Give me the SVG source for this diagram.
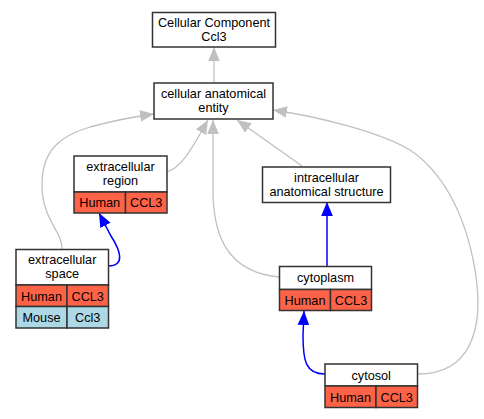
<svg xmlns="http://www.w3.org/2000/svg" width="484" height="419" viewBox="0 0 484 419">
<style>
text{font-family:"Liberation Sans",Arial,sans-serif;font-size:12.7px;fill:#000;text-anchor:middle}
.box{fill:#fff;stroke:#333;stroke-width:1.5}
.hu{fill:#ff6347;stroke:#333;stroke-width:1.5}
.mo{fill:#add8e6;stroke:#333;stroke-width:1.5}
.g{fill:none;stroke:#c0c0c0;stroke-width:1.3}
.b{fill:none;stroke:#0000ff;stroke-width:1.5}
</style>
<defs>
<marker id="ag" markerUnits="userSpaceOnUse" markerWidth="14" markerHeight="12" refX="12" refY="5" orient="auto" viewBox="0 0 12 10"><path d="M0,0 L12,5 L0,10 Z" fill="#c0c0c0"/></marker>
<marker id="ab" markerUnits="userSpaceOnUse" markerWidth="14" markerHeight="12" refX="12" refY="5" orient="auto" viewBox="0 0 12 10"><path d="M0,0 L12,5 L0,10 Z" fill="#0000ff"/></marker>
</defs>
<g id="edges">
<path class="g" d="M214,83 L214,47" marker-end="url(#ag)"/>
<path class="g" d="M166,172 C182,168 192,148 208,120" marker-end="url(#ag)"/>
<path class="g" d="M279,277 C225,272 213,232 213,190 L213,120" marker-end="url(#ag)"/>
<path class="g" d="M302,166 L237,120" marker-end="url(#ag)"/>
<path class="g" d="M418,374 C470,374 485,330 475,270 C465,210 440,170 410,150 C380,132 320,117 273,110" marker-end="url(#ag)"/>
<path class="g" d="M62,249 C62,230 42,220 42,185 C42,150 60,136 90,127 C112,121 132,117 154,114" marker-end="url(#ag)"/>
<path class="b" d="M108,266 C126,266 120,250 111,236 L99,213" marker-end="url(#ab)"/>
<path class="b" d="M327,266 L327,202" marker-end="url(#ab)"/>
<path class="b" d="M325,374 C305,374 303,360 303,335 L304,311" marker-end="url(#ab)"/>
</g>
<g id="n1">
<rect class="box" x="152.5" y="12.5" width="123" height="34.5"/>
<text x="214" y="26.5">Cellular Component</text>
<text x="214" y="40.5">Ccl3</text>
</g>
<g id="n2">
<rect class="box" x="154" y="83" width="119" height="36"/>
<text x="213.5" y="98">cellular anatomical</text>
<text x="213.5" y="112">entity</text>
</g>
<g id="n3">
<rect class="box" x="74" y="156" width="93" height="36"/>
<text x="120.5" y="171">extracellular</text>
<text x="120.5" y="185">region</text>
<rect class="hu" x="74" y="192" width="51.5" height="21"/>
<rect class="hu" x="125.5" y="192" width="41.5" height="21"/>
<text x="99.7" y="207">Human</text>
<text x="146.2" y="207">CCL3</text>
</g>
<g id="n4">
<rect class="box" x="16" y="249.5" width="92.5" height="35.5"/>
<text x="62.2" y="264">extracellular</text>
<text x="62.2" y="278">space</text>
<rect class="hu" x="16" y="285" width="51" height="21.5"/>
<rect class="hu" x="67" y="285" width="41.5" height="21.5"/>
<text x="41.5" y="300.5">Human</text>
<text x="87.7" y="300.5">CCL3</text>
<rect class="mo" x="16" y="306.5" width="51" height="21.5"/>
<rect class="mo" x="67" y="306.5" width="41.5" height="21.5"/>
<text x="41.5" y="322">Mouse</text>
<text x="87.7" y="322">Ccl3</text>
</g>
<g id="n5">
<rect class="box" x="262.5" y="167" width="128" height="35.5"/>
<text x="326.5" y="181.5">intracellular</text>
<text x="326.5" y="195.5">anatomical structure</text>
</g>
<g id="n6">
<rect class="box" x="279.5" y="266.5" width="92" height="23"/>
<text x="325.5" y="282">cytoplasm</text>
<rect class="hu" x="279.5" y="289.5" width="51" height="21"/>
<rect class="hu" x="330.5" y="289.5" width="41" height="21"/>
<text x="305" y="305">Human</text>
<text x="351" y="305">CCL3</text>
</g>
<g id="n7">
<rect class="box" x="325" y="364" width="92.5" height="22"/>
<text x="371.2" y="379.5">cytosol</text>
<rect class="hu" x="325" y="386" width="51" height="21.5"/>
<rect class="hu" x="376" y="386" width="41.5" height="21.5"/>
<text x="350.5" y="401.5">Human</text>
<text x="396.7" y="401.5">CCL3</text>
</g>
</svg>
